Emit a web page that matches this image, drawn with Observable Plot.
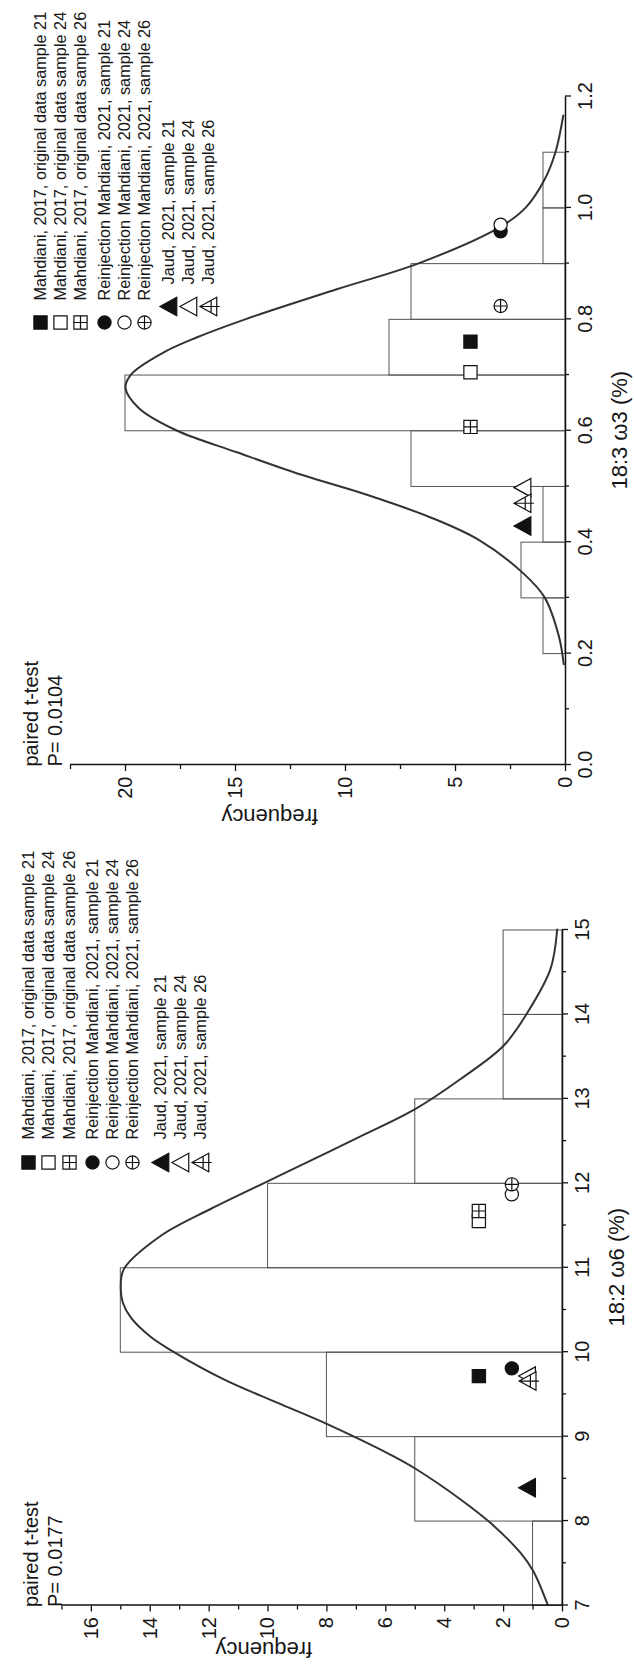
<!DOCTYPE html>
<html>
<head>
<meta charset="utf-8">
<script src="https://cdn.jsdelivr.net/npm/d3@7"></script>
<script src="https://cdn.jsdelivr.net/npm/@observablehq/plot@0.6"></script>
<style>
  html, body { margin: 0; padding: 0; background: #fff; }
  #page { position: relative; width: 634px; height: 1670px; overflow: hidden; background: #fff; }
  #page svg { position: absolute; left: 0; transform-origin: 0 0; }
</style>
</head>
<body>
<div id="page"></div>
<script>
// ---- shared legend entries (one per sample series) ----
const seriesNames = [
  "Mahdiani, 2017, original data sample 21",
  "Mahdiani, 2017, original data sample 24",
  "Mahdiani, 2017, original data sample 26",
  "Reinjection Mahdiani, 2021, sample 21",
  "Reinjection Mahdiani, 2021, sample 24",
  "Reinjection Mahdiani, 2021, sample 26",
  "Jaud, 2021, sample 21",
  "Jaud, 2021, sample 24",
  "Jaud, 2021, sample 26"
];

// ---- 18:3 ω3 ----
const w3Title = "18:3 ω3 (%)";
const w3Test = "paired t-test\nP= 0.0104";
const w3BinEdges = [0.2, 0.3, 0.4, 0.5, 0.6, 0.7, 0.8, 0.9, 1.0, 1.1];
const w3Counts = [1, 2, 1, 7, 20, 8, 7, 1, 1];
const w3FitX = [0.18, 0.23, 0.30, 0.344, 0.404, 0.443, 0.485, 0.52, 0.56, 0.60, 0.64, 0.676, 0.70, 0.739, 0.766, 0.80, 0.853, 0.90, 0.966, 1.00, 1.05, 1.10, 1.165];
const w3FitY = [0.08, 0.3, 0.95, 1.94, 3.98, 6.1, 9.1, 12.0, 14.9, 17.7, 19.4, 20.0, 19.75, 18.3, 16.8, 14.5, 10.4, 6.65, 2.92, 1.8, 0.95, 0.45, 0.1];
const w3SampleX = [0.759, 0.704, 0.606, 0.957, 0.969, 0.823, 0.428, 0.497, 0.469];
const w3SampleY = [4.32, 4.32, 4.32, 2.95, 2.95, 2.95, 1.95, 1.95, 1.95];
const w3XTicks = [0, 0.2, 0.4, 0.6, 0.8, 1.0, 1.2];
const w3XMinor = [0.1, 0.3, 0.5, 0.7, 0.9, 1.1];
const w3YTicks = [0, 5, 10, 15, 20];
const w3YMinor = [2.5, 7.5, 12.5, 17.5, 22.5];

// ---- 18:2 ω6 ----
const w6Title = "18:2 ω6 (%)";
const w6Test = "paired t-test\nP= 0.0177";
const w6BinEdges = [7, 8, 9, 10, 11, 12, 13, 14, 15];
const w6Counts = [1, 5, 8, 15, 10, 5, 2, 2];
const w6FitX = [7.0, 7.40, 7.62, 7.97, 8.25, 8.605, 8.763, 9.139, 9.396, 9.672, 10.007, 10.18, 10.40, 10.58, 10.74, 10.975, 11.37, 11.69, 12.02, 12.28, 12.55, 12.87, 13.23, 13.62, 14.01, 14.53, 15.0];
const w6FitY = [0.5, 0.99, 1.43, 2.44, 3.46, 4.95, 5.75, 7.97, 9.69, 11.5, 13.25, 14.0, 14.65, 14.93, 15.0, 14.9, 13.65, 11.95, 10.0, 8.45, 6.86, 5.02, 3.46, 2.01, 1.2, 0.41, 0.18];
const w6SampleX = [9.711, 11.547, 11.666, 9.802, 11.864, 11.982, 8.389, 9.711, 9.652];
const w6SampleY = [2.84, 2.84, 2.84, 1.72, 1.72, 1.72, 1.2, 1.2, 1.18];
const w6XTicks = [7, 8, 9, 10, 11, 12, 13, 14, 15];
const w6XMinor = [7.5, 8.5, 9.5, 10.5, 11.5, 12.5, 13.5, 14.5];
const w6YTicks = [0, 2, 4, 6, 8, 10, 12, 14, 16];
const w6YMinor = [1, 3, 5, 7, 9, 11, 13, 15, 17];

// ---- marker styling per series ----
const shapes = ["square", "square", "square", "circle", "circle", "circle", "triangle", "triangle", "triangle"];
const filled = [true, false, false, true, false, false, true, false, false];
const crossed = [false, false, true, false, false, true, false, false, true];

function makeSymbol(shape, plus) {
  return {
    draw(ctx, size) {
      const r = Math.sqrt(size / Math.PI);
      if (shape === "square") {
        ctx.moveTo(-r, -r); ctx.lineTo(r, -r); ctx.lineTo(r, r); ctx.lineTo(-r, r); ctx.closePath();
        if (plus) { ctx.moveTo(0, -r); ctx.lineTo(0, r); ctx.moveTo(-r, 0); ctx.lineTo(r, 0); }
      } else if (shape === "circle") {
        ctx.moveTo(r, 0); ctx.arc(0, 0, r, 0, 2 * Math.PI); ctx.closePath();
        if (plus) { ctx.moveTo(0, -r); ctx.lineTo(0, r); ctx.moveTo(-r, 0); ctx.lineTo(r, 0); }
      } else {
        const t = 1.3 * r, b = 1.25 * r, hw = 1.4 * r;
        ctx.moveTo(0, -t); ctx.lineTo(hw, b); ctx.lineTo(-hw, b); ctx.closePath();
        if (plus) { ctx.moveTo(0, -t); ctx.lineTo(0, b + 0.45 * r); ctx.moveTo(-r, 0.4 * r); ctx.lineTo(r, 0.4 * r); }
      }
    }
  };
}
const symbols = shapes.map((s, i) => makeSymbol(s, crossed[i]));
const markStyle = (i) => ({
  symbol: symbols[i], r: 6.6,
  fill: filled[i] ? "#111" : "#fff", stroke: "#111", strokeWidth: 1.2
});

const FONT = "'Liberation Sans', Arial, Helvetica, sans-serif";
const PANEL_W = 835, PANEL_H = 634;

function panel(cfg) {
  const bins = cfg.counts.map((c, i) => ({x1: cfg.edges[i], x2: cfg.edges[i + 1], n: c}));
  const fit = cfg.fitX.map((x, i) => ({x, y: cfg.fitY[i]}));
  const marks = [
    Plot.rect(bins, {x1: "x1", x2: "x2", y1: 0, y2: "n", inset: 0, fill: "none", stroke: "#555", strokeWidth: 1}),
    Plot.line(fit, {x: "x", y: "y", curve: "catmull-rom", stroke: "#333", strokeWidth: 2})
  ];
  cfg.sampleX.forEach((x, i) => {
    marks.push(Plot.dot([{x, y: cfg.sampleY[i]}], {x: "x", y: "y", ...markStyle(i)}));
  });
  // axes
  marks.push(
    Plot.axisX(cfg.xTicks, {anchor: "bottom", tickSize: 6, tickPadding: 6, tickFormat: cfg.xFormat, fontSize: 20, label: null, stroke: "#111", strokeWidth: 1.3}),
    Plot.axisX(cfg.xMinor, {anchor: "bottom", tickSize: 4, fill: "none", label: null, stroke: "#111", strokeWidth: 1.3}),
    Plot.axisY(cfg.yTicks, {anchor: "left", tickSize: 6, tickPadding: 6, fontSize: 20, label: null, stroke: "#111", strokeWidth: 1.3}),
    Plot.axisY(cfg.yMinor, {anchor: "left", tickSize: 4, fill: "none", label: null, stroke: "#111", strokeWidth: 1.3}),
    Plot.ruleY([0], {stroke: "#111", strokeWidth: 1.5}),
    Plot.ruleX([cfg.xDomain[0]], {stroke: "#111", strokeWidth: 1.5}),
    Plot.text([cfg.title], {text: (d) => d, frameAnchor: "bottom", dy: 54, lineAnchor: "middle", fontSize: 22}),
    Plot.text(["frequency"], {text: (d) => d, frameAnchor: "left", dx: cfg.yLabelDx, rotate: -90, lineAnchor: "middle", fontSize: 22}),
    Plot.text([cfg.test], {text: (d) => d, frameAnchor: "top-left", dx: -2, dy: cfg.testDy, textAnchor: "start", lineAnchor: "bottom", lineHeight: 1.2, fontSize: 20})
  );
  // legend
  seriesNames.forEach((name, i) => {
    const col = i >= 6 ? 1 : 0;
    marks.push(
      Plot.dot([name], {frameAnchor: "top-left", dx: cfg.legendSymbolDx[col], dy: cfg.legendDy[i], ...markStyle(i)}),
      Plot.text([name], {text: (d) => d, frameAnchor: "top-left", dx: cfg.legendTextDx[col], dy: cfg.legendDy[i], textAnchor: "start", lineAnchor: "middle", fontSize: 16.3})
    );
  });
  return Plot.plot({
    width: PANEL_W, height: PANEL_H,
    marginLeft: cfg.margins[0], marginRight: cfg.margins[1], marginTop: cfg.margins[2], marginBottom: cfg.margins[3],
    x: {type: "linear", domain: cfg.xDomain},
    y: {type: "linear", domain: cfg.yDomain},
    style: {fontFamily: FONT, color: "#161616", background: "transparent", maxWidth: "none", width: PANEL_W + "px", height: PANEL_H + "px", overflow: "visible"},
    marks
  });
}

const page = document.getElementById("page");

const top3 = panel({
  edges: w3BinEdges, counts: w3Counts, fitX: w3FitX, fitY: w3FitY,
  sampleX: w3SampleX, sampleY: w3SampleY,
  xTicks: w3XTicks, xMinor: w3XMinor, yTicks: w3YTicks, yMinor: w3YMinor,
  xFormat: ".1f", xDomain: [0, 1.2], yDomain: [0, 22.5],
  title: w3Title, test: w3Test, testDy: -9, yLabelDx: -52,
  margins: [70, 96.5, 70, 69],
  legendSymbolDx: [442, 458], legendTextDx: [464, 480],
  legendDy: [-30, -10, 10, 34, 54, 74, 98, 118, 138]
});
const bottom6 = panel({
  edges: w6BinEdges, counts: w6Counts, fitX: w6FitX, fitY: w6FitY,
  sampleX: w6SampleX, sampleY: w6SampleY,
  xTicks: w6XTicks, xMinor: w6XMinor, yTicks: w6YTicks, yMinor: w6YMinor,
  xFormat: "d", xDomain: [7, 15], yDomain: [0, 17],
  title: w6Title, test: w6Test, testDy: -0.4, yLabelDx: -44.5,
  margins: [64.5, 95, 61.4, 72],
  legendSymbolDx: [442.5, 442.5], legendTextDx: [465.5, 465.5],
  legendDy: [-33.4, -13.4, 7.6, 30.6, 50.6, 70.6, 98.6, 118.6, 138.6]
});

// each panel is laid out landscape and turned a quarter turn counter-clockwise
[[top3, 0], [bottom6, PANEL_W]].forEach(([svg, top]) => {
  svg.style.top = top + "px";
  svg.style.transform = `translateY(${PANEL_W}px) rotate(-90deg)`;
  page.appendChild(svg);
});
</script>
</body>
</html>
